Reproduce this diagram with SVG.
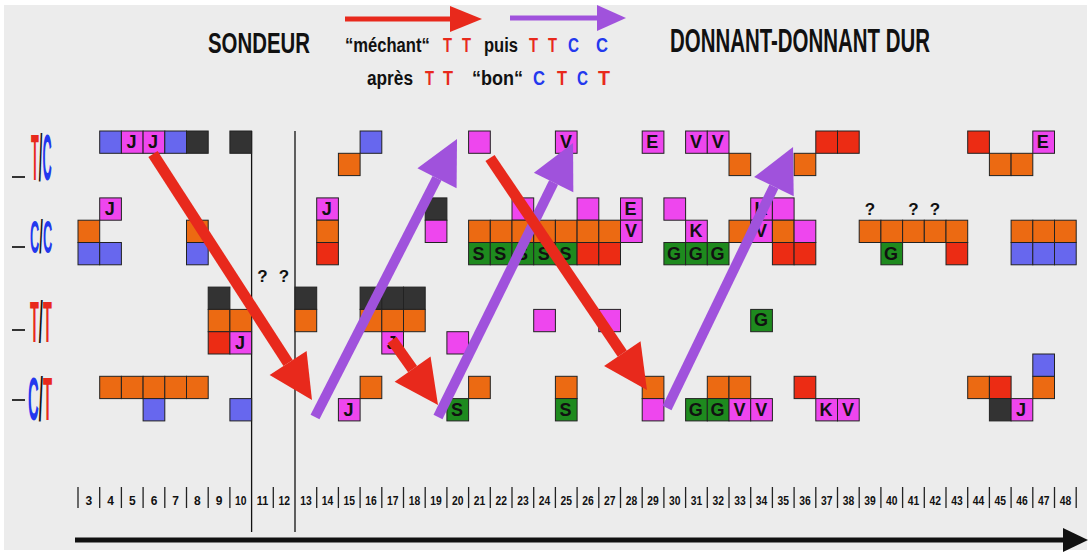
<svg xmlns="http://www.w3.org/2000/svg" width="1091" height="553" viewBox="0 0 1091 553">
<style>
text{font-family:"Liberation Sans",Arial,sans-serif;font-weight:bold}
.c rect{stroke:#222;stroke-width:1}
.b{fill:#6767ee}.m{fill:#ee46ee}.o{fill:#ec6a12}.r{fill:#ec2c14}.k{fill:#333}.g{fill:#1e8a1e}
.lt{font-size:18px;text-anchor:middle;fill:#111}
.q{font-size:17px;text-anchor:middle;fill:#111}
.n{font-size:12px;text-anchor:middle;fill:#111}
.tk{stroke:#222;stroke-width:1.3}
.hd{font-size:20px;fill:#111}
.tr{fill:#e8291c}.cb{fill:#2338ee}
.ar{stroke:#e8291c;stroke-width:11;fill:none}
.ap{stroke:#a052dc;stroke-width:10;fill:none}
</style>
<defs>
<marker id="hr" markerUnits="userSpaceOnUse" markerWidth="46" markerHeight="46" refX="0" refY="22" orient="auto" overflow="visible"><path d="M0,0 L44,22 L0,44 z" fill="#e8291c"/></marker>
<marker id="hp" markerUnits="userSpaceOnUse" markerWidth="46" markerHeight="46" refX="0" refY="22" orient="auto" overflow="visible"><path d="M0,0 L44,22 L0,44 z" fill="#a052dc"/></marker>
<marker id="hsr" markerUnits="userSpaceOnUse" markerWidth="34" markerHeight="28" refX="0" refY="13" orient="auto" overflow="visible"><path d="M0,0 L32,13 L0,26 z" fill="#e8291c"/></marker>
<marker id="hsp" markerUnits="userSpaceOnUse" markerWidth="34" markerHeight="28" refX="0" refY="13" orient="auto" overflow="visible"><path d="M0,0 L29,13 L0,26 z" fill="#a052dc"/></marker>
</defs>
<rect width="1091" height="553" fill="#ffffff"/>
<rect x="4" y="5" width="1083" height="545" fill="#ececec"/>

<g id="header">
<text x="208" y="53" font-size="29" textLength="102" lengthAdjust="spacingAndGlyphs" fill="#111">SONDEUR</text>
<text x="670" y="52" font-size="33" textLength="260" lengthAdjust="spacingAndGlyphs" fill="#111">DONNANT-DONNANT DUR</text>
<text class="hd" transform="translate(345,52) scale(0.83,1)">“méchant“</text>
<text class="hd tr" x="443" y="52" textLength="9" lengthAdjust="spacingAndGlyphs">T</text>
<text class="hd tr" x="462" y="52" textLength="9" lengthAdjust="spacingAndGlyphs">T</text>
<text class="hd" x="484" y="52" textLength="34" lengthAdjust="spacingAndGlyphs">puis</text>
<text class="hd tr" x="529" y="52" textLength="9" lengthAdjust="spacingAndGlyphs">T</text>
<text class="hd tr" x="548" y="52" textLength="9" lengthAdjust="spacingAndGlyphs">T</text>
<text class="hd cb" x="568" y="52" textLength="11" lengthAdjust="spacingAndGlyphs">C</text>
<text class="hd cb" x="596" y="52" textLength="12" lengthAdjust="spacingAndGlyphs">C</text>
<text class="hd" x="367" y="85" textLength="46" lengthAdjust="spacingAndGlyphs">après</text>
<text class="hd tr" x="425" y="85" textLength="9" lengthAdjust="spacingAndGlyphs">T</text>
<text class="hd tr" x="443" y="85" textLength="10" lengthAdjust="spacingAndGlyphs">T</text>
<text class="hd" x="472" y="85" textLength="51" lengthAdjust="spacingAndGlyphs">“bon“</text>
<text class="hd cb" x="533" y="85" textLength="12" lengthAdjust="spacingAndGlyphs">C</text>
<text class="hd tr" x="557" y="85" textLength="10" lengthAdjust="spacingAndGlyphs">T</text>
<text class="hd cb" x="577" y="85" textLength="11" lengthAdjust="spacingAndGlyphs">C</text>
<text class="hd tr" x="598" y="85" textLength="12" lengthAdjust="spacingAndGlyphs">T</text>
</g>

<g id="row-labels">
<line x1="12" y1="177" x2="25" y2="177" stroke="#333" stroke-width="2"/>
<line x1="12" y1="247" x2="25" y2="247" stroke="#333" stroke-width="2"/>
<line x1="12" y1="330" x2="25" y2="330" stroke="#333" stroke-width="2"/>
<line x1="12" y1="400" x2="25" y2="400" stroke="#333" stroke-width="2"/>
<text transform="translate(31,180) scale(0.2,1)" font-size="64"><tspan class="tr">T</tspan><tspan fill="#111">/</tspan><tspan class="cb">C</tspan></text>
<text transform="translate(30,253) scale(0.28,1)" font-size="46"><tspan class="cb">C</tspan><tspan fill="#111">/</tspan><tspan class="cb">C</tspan></text>
<text transform="translate(30,342) scale(0.25,1)" font-size="58"><tspan class="tr">T</tspan><tspan fill="#111">/</tspan><tspan class="tr">T</tspan></text>
<text transform="translate(28,420) scale(0.24,1)" font-size="62"><tspan class="cb">C</tspan><tspan fill="#111">/</tspan><tspan class="tr">T</tspan></text>
</g>

<g id="separators" stroke="#111" stroke-width="1.3">
<line x1="251.6" y1="131" x2="251.6" y2="532"/>
<line x1="295" y1="131" x2="295" y2="532"/>
</g>

<g id="cells-TC" class="c">
<rect class="b" x="99.7" y="131" width="21.7" height="22.3"/>
<rect class="m" x="121.4" y="131" width="21.7" height="22.3"/><text class="lt" x="131.4" y="148">J</text>
<rect class="m" x="143.1" y="131" width="21.7" height="22.3"/><text class="lt" x="153.1" y="148">J</text>
<rect class="b" x="164.8" y="131" width="21.7" height="22.3"/>
<rect class="k" x="186.5" y="131" width="21.7" height="22.3"/>
<rect class="k" x="229.9" y="131" width="21.7" height="22.3"/>
<rect class="b" x="360.1" y="131" width="21.7" height="22.3"/>
<rect class="o" x="338.4" y="153.3" width="21.7" height="22.3"/>
<rect class="m" x="468.6" y="131" width="21.7" height="22.3"/>
<rect class="m" x="555.4" y="131" width="21.7" height="22.3"/><text class="lt" x="566" y="148">V</text>
<rect class="m" x="642.2" y="131" width="21.7" height="22.3"/><text class="lt" x="652.2" y="148">E</text>
<rect class="m" x="685.6" y="131" width="21.7" height="22.3"/><text class="lt" x="696" y="148">V</text>
<rect class="m" x="707.3" y="131" width="21.7" height="22.3"/><text class="lt" x="717.7" y="148">V</text>
<rect class="o" x="729" y="153.3" width="21.7" height="22.3"/>
<rect class="o" x="794.1" y="153.3" width="21.7" height="22.3"/>
<rect class="r" x="815.8" y="131" width="21.7" height="22.3"/>
<rect class="r" x="837.5" y="131" width="21.7" height="22.3"/>
<rect class="r" x="967.7" y="131" width="21.7" height="22.3"/>
<rect class="o" x="989.4" y="153.3" width="21.7" height="22.3"/>
<rect class="o" x="1011.1" y="153.3" width="21.7" height="22.3"/>
<rect class="m" x="1032.8" y="131" width="21.7" height="22.3"/><text class="lt" x="1042.8" y="148">E</text>
</g>

<g id="cells-CC" class="c">
<rect class="m" x="99.7" y="197.9" width="21.7" height="22.3"/><text class="lt" x="109.7" y="215">J</text>
<rect class="o" x="78" y="220.2" width="21.7" height="22.3"/>
<rect class="b" x="78" y="242.5" width="21.7" height="22.3"/>
<rect class="b" x="99.7" y="242.5" width="21.7" height="22.3"/>
<rect class="o" x="186.5" y="220.2" width="21.7" height="22.3"/>
<rect class="b" x="186.5" y="242.5" width="21.7" height="22.3"/>
<rect class="m" x="316.7" y="197.9" width="21.7" height="22.3"/><text class="lt" x="326.7" y="215">J</text>
<rect class="o" x="316.7" y="220.2" width="21.7" height="22.3"/>
<rect class="r" x="316.7" y="242.5" width="21.7" height="22.3"/>
<rect class="k" x="425.2" y="197.9" width="21.7" height="22.3"/>
<rect class="m" x="425.2" y="220.2" width="21.7" height="22.3"/>
<rect class="m" x="512" y="197.9" width="21.7" height="22.3"/>
<rect class="m" x="577.1" y="197.9" width="21.7" height="22.3"/>
<rect class="o" x="468.6" y="220.2" width="21.7" height="22.3"/>
<rect class="o" x="490.3" y="220.2" width="21.7" height="22.3"/>
<rect class="o" x="512" y="220.2" width="21.7" height="22.3"/>
<rect class="o" x="533.7" y="220.2" width="21.7" height="22.3"/>
<rect class="o" x="555.4" y="220.2" width="21.7" height="22.3"/>
<rect class="o" x="577.1" y="220.2" width="21.7" height="22.3"/>
<rect class="o" x="598.8" y="220.2" width="21.7" height="22.3"/>
<rect class="g" x="468.6" y="242.5" width="21.7" height="22.3"/><text class="lt" x="478.6" y="259.5">S</text>
<rect class="g" x="490.3" y="242.5" width="21.7" height="22.3"/><text class="lt" x="500.3" y="259.5">S</text>
<rect class="g" x="512" y="242.5" width="21.7" height="22.3"/><text class="lt" x="522" y="259.5">S</text>
<rect class="g" x="533.7" y="242.5" width="21.7" height="22.3"/><text class="lt" x="543.7" y="259.5">S</text>
<rect class="g" x="555.4" y="242.5" width="21.7" height="22.3"/><text class="lt" x="565.4" y="259.5">S</text>
<rect class="r" x="577.1" y="242.5" width="21.7" height="22.3"/>
<rect class="r" x="598.8" y="242.5" width="21.7" height="22.3"/>
<rect class="m" x="620.5" y="197.9" width="21.7" height="22.3"/><text class="lt" x="630.5" y="215">E</text>
<rect class="m" x="620.5" y="220.2" width="21.7" height="22.3"/><text class="lt" x="631" y="237">V</text>
<rect class="m" x="663.9" y="197.9" width="21.7" height="22.3"/>
<rect class="m" x="685.6" y="220.2" width="21.7" height="22.3"/><text class="lt" x="696" y="237">K</text>
<rect class="g" x="663.9" y="242.5" width="21.7" height="22.3"/><text class="lt" x="674" y="259.5">G</text>
<rect class="g" x="685.6" y="242.5" width="21.7" height="22.3"/><text class="lt" x="695.7" y="259.5">G</text>
<rect class="g" x="707.3" y="242.5" width="21.7" height="22.3"/><text class="lt" x="717.4" y="259.5">G</text>
<rect class="o" x="729" y="220.2" width="21.7" height="22.3"/>
<rect class="m" x="750.7" y="197.9" width="21.7" height="22.3"/><text class="lt" x="761" y="215">K</text>
<rect class="m" x="750.7" y="220.2" width="21.7" height="22.3"/><text class="lt" x="761" y="237">V</text>
<rect class="m" x="772.4" y="197.9" width="21.7" height="22.3"/>
<rect class="o" x="772.4" y="220.2" width="21.7" height="22.3"/>
<rect class="m" x="794.1" y="220.2" width="21.7" height="22.3"/>
<rect class="r" x="772.4" y="242.5" width="21.7" height="22.3"/>
<rect class="r" x="794.1" y="242.5" width="21.7" height="22.3"/>
<rect class="o" x="859.2" y="220.2" width="21.7" height="22.3"/>
<rect class="o" x="880.9" y="220.2" width="21.7" height="22.3"/>
<rect class="o" x="902.6" y="220.2" width="21.7" height="22.3"/>
<rect class="o" x="924.3" y="220.2" width="21.7" height="22.3"/>
<rect class="o" x="946" y="220.2" width="21.7" height="22.3"/>
<rect class="g" x="880.9" y="242.5" width="21.7" height="22.3"/><text class="lt" x="891" y="259.5">G</text>
<rect class="r" x="946" y="242.5" width="21.7" height="22.3"/>
<rect class="o" x="1011.1" y="220.2" width="21.7" height="22.3"/>
<rect class="o" x="1032.8" y="220.2" width="21.7" height="22.3"/>
<rect class="o" x="1054.5" y="220.2" width="21.7" height="22.3"/>
<rect class="b" x="1011.1" y="242.5" width="21.7" height="22.3"/>
<rect class="b" x="1032.8" y="242.5" width="21.7" height="22.3"/>
<rect class="b" x="1054.5" y="242.5" width="21.7" height="22.3"/>
<text class="q" x="870" y="215">?</text>
<text class="q" x="913.5" y="215">?</text>
<text class="q" x="935" y="215">?</text>
<text class="q" x="262.5" y="282">?</text>
<text class="q" x="284" y="282">?</text>
</g>

<g id="cells-TT" class="c">
<rect class="k" x="208.2" y="287.1" width="21.7" height="22.3"/>
<rect class="o" x="208.2" y="309.4" width="21.7" height="22.3"/>
<rect class="o" x="229.9" y="309.4" width="21.7" height="22.3"/>
<rect class="r" x="208.2" y="331.7" width="21.7" height="22.3"/>
<rect class="m" x="229.9" y="331.7" width="21.7" height="22.3"/><text class="lt" x="239.9" y="348.7">J</text>
<rect class="k" x="295" y="287.1" width="21.7" height="22.3"/>
<rect class="o" x="295" y="309.4" width="21.7" height="22.3"/>
<rect class="k" x="360.1" y="287.1" width="21.7" height="22.3"/>
<rect class="k" x="381.8" y="287.1" width="21.7" height="22.3"/>
<rect class="k" x="403.5" y="287.1" width="21.7" height="22.3"/>
<rect class="o" x="360.1" y="309.4" width="21.7" height="22.3"/>
<rect class="o" x="381.8" y="309.4" width="21.7" height="22.3"/>
<rect class="o" x="403.5" y="309.4" width="21.7" height="22.3"/>
<rect class="m" x="381.8" y="331.7" width="21.7" height="22.3"/><text class="lt" x="391.8" y="348.7">J</text>
<rect class="m" x="446.9" y="331.7" width="21.7" height="22.3"/>
<rect class="m" x="533.7" y="309.4" width="21.7" height="22.3"/>
<rect class="m" x="598.8" y="309.4" width="21.7" height="22.3"/>
<rect class="g" x="750.7" y="309.4" width="21.7" height="22.3"/><text class="lt" x="761" y="326.4">G</text>
</g>

<g id="cells-CT" class="c">
<rect class="o" x="99.7" y="376.3" width="21.7" height="22.3"/>
<rect class="o" x="121.4" y="376.3" width="21.7" height="22.3"/>
<rect class="o" x="143.1" y="376.3" width="21.7" height="22.3"/>
<rect class="o" x="164.8" y="376.3" width="21.7" height="22.3"/>
<rect class="o" x="186.5" y="376.3" width="21.7" height="22.3"/>
<rect class="b" x="143.1" y="398.6" width="21.7" height="22.3"/>
<rect class="b" x="229.9" y="398.6" width="21.7" height="22.3"/>
<rect class="o" x="360.1" y="376.3" width="21.7" height="22.3"/>
<rect class="m" x="338.4" y="398.6" width="21.7" height="22.3"/><text class="lt" x="348.4" y="415.6">J</text>
<rect class="o" x="468.6" y="376.3" width="21.7" height="22.3"/>
<rect class="g" x="446.9" y="398.6" width="21.7" height="22.3"/><text class="lt" x="457" y="415.6">S</text>
<rect class="o" x="555.4" y="376.3" width="21.7" height="22.3"/>
<rect class="g" x="555.4" y="398.6" width="21.7" height="22.3"/><text class="lt" x="565.4" y="415.6">S</text>
<rect class="o" x="642.2" y="376.3" width="21.7" height="22.3"/>
<rect class="m" x="642.2" y="398.6" width="21.7" height="22.3"/>
<rect class="o" x="707.3" y="376.3" width="21.7" height="22.3"/>
<rect class="o" x="729" y="376.3" width="21.7" height="22.3"/>
<rect class="g" x="685.6" y="398.6" width="21.7" height="22.3"/><text class="lt" x="695.7" y="415.6">G</text>
<rect class="g" x="707.3" y="398.6" width="21.7" height="22.3"/><text class="lt" x="717.4" y="415.6">G</text>
<rect class="m" x="729" y="398.6" width="21.7" height="22.3"/><text class="lt" x="739.5" y="415.6">V</text>
<rect class="m" x="750.7" y="398.6" width="21.7" height="22.3"/><text class="lt" x="761.2" y="415.6">V</text>
<rect class="r" x="794.1" y="376.3" width="21.7" height="22.3"/>
<rect class="m" x="815.8" y="398.6" width="21.7" height="22.3"/><text class="lt" x="826" y="415.6">K</text>
<rect class="m" x="837.5" y="398.6" width="21.7" height="22.3"/><text class="lt" x="848" y="415.6">V</text>
<rect class="o" x="967.7" y="376.3" width="21.7" height="22.3"/>
<rect class="r" x="989.4" y="376.3" width="21.7" height="22.3"/>
<rect class="o" x="1032.8" y="376.3" width="21.7" height="22.3"/>
<rect class="b" x="1032.8" y="354" width="21.7" height="22.3"/>
<rect class="k" x="989.4" y="398.6" width="21.7" height="22.3"/>
<rect class="m" x="1011.1" y="398.6" width="21.7" height="22.3"/><text class="lt" x="1021.1" y="415.6">J</text>
</g>

<g id="connectors">
<line x1="345" y1="19" x2="450" y2="19" stroke="#e8291c" stroke-width="5" marker-end="url(#hsr)"/>
<line x1="510" y1="18" x2="597" y2="18" stroke="#a052dc" stroke-width="5" marker-end="url(#hsp)"/>
<line class="ar" x1="153" y1="154" x2="288.1" y2="363" marker-end="url(#hr)"/>
<line class="ap" x1="315" y1="417" x2="437" y2="178.2" marker-end="url(#hp)"/>
<line class="ar" x1="392" y1="340" x2="412.6" y2="369.1" marker-end="url(#hr)"/>
<line class="ap" x1="438" y1="417" x2="553.6" y2="182.5" marker-end="url(#hp)"/>
<line class="ar" x1="490" y1="158" x2="622.3" y2="353.6" marker-end="url(#hr)"/>
<line class="ap" x1="667" y1="408" x2="773.9" y2="186.6" marker-end="url(#hp)"/>
</g>

<g id="axis">
<g class="tk">
<line x1="78" y1="487" x2="78" y2="508"/><line x1="99.7" y1="487" x2="99.7" y2="508"/><line x1="121.4" y1="487" x2="121.4" y2="508"/><line x1="143.1" y1="487" x2="143.1" y2="508"/><line x1="164.8" y1="487" x2="164.8" y2="508"/><line x1="186.5" y1="487" x2="186.5" y2="508"/><line x1="208.2" y1="487" x2="208.2" y2="508"/><line x1="229.9" y1="487" x2="229.9" y2="508"/><line x1="273.3" y1="487" x2="273.3" y2="508"/><line x1="316.7" y1="487" x2="316.7" y2="508"/><line x1="338.4" y1="487" x2="338.4" y2="508"/><line x1="360.1" y1="487" x2="360.1" y2="508"/><line x1="381.8" y1="487" x2="381.8" y2="508"/><line x1="403.5" y1="487" x2="403.5" y2="508"/><line x1="425.2" y1="487" x2="425.2" y2="508"/><line x1="446.9" y1="487" x2="446.9" y2="508"/><line x1="468.6" y1="487" x2="468.6" y2="508"/><line x1="490.3" y1="487" x2="490.3" y2="508"/><line x1="512" y1="487" x2="512" y2="508"/><line x1="533.7" y1="487" x2="533.7" y2="508"/><line x1="555.4" y1="487" x2="555.4" y2="508"/><line x1="577.1" y1="487" x2="577.1" y2="508"/><line x1="598.8" y1="487" x2="598.8" y2="508"/><line x1="620.5" y1="487" x2="620.5" y2="508"/><line x1="642.2" y1="487" x2="642.2" y2="508"/><line x1="663.9" y1="487" x2="663.9" y2="508"/><line x1="685.6" y1="487" x2="685.6" y2="508"/><line x1="707.3" y1="487" x2="707.3" y2="508"/><line x1="729" y1="487" x2="729" y2="508"/><line x1="750.7" y1="487" x2="750.7" y2="508"/><line x1="772.4" y1="487" x2="772.4" y2="508"/><line x1="794.1" y1="487" x2="794.1" y2="508"/><line x1="815.8" y1="487" x2="815.8" y2="508"/><line x1="837.5" y1="487" x2="837.5" y2="508"/><line x1="859.2" y1="487" x2="859.2" y2="508"/><line x1="880.9" y1="487" x2="880.9" y2="508"/><line x1="902.6" y1="487" x2="902.6" y2="508"/><line x1="924.3" y1="487" x2="924.3" y2="508"/><line x1="946" y1="487" x2="946" y2="508"/><line x1="967.7" y1="487" x2="967.7" y2="508"/><line x1="989.4" y1="487" x2="989.4" y2="508"/><line x1="1011.1" y1="487" x2="1011.1" y2="508"/><line x1="1032.8" y1="487" x2="1032.8" y2="508"/><line x1="1054.5" y1="487" x2="1054.5" y2="508"/><line x1="1076.2" y1="487" x2="1076.2" y2="508"/>
</g>
<text class="n" x="88.9" y="505">3</text><text class="n" x="110.6" y="505">4</text><text class="n" x="132.3" y="505">5</text><text class="n" x="154" y="505">6</text><text class="n" x="175.7" y="505">7</text><text class="n" x="197.4" y="505">8</text><text class="n" x="219.1" y="505">9</text>
<text class="n" x="240.8" y="505" textLength="11.5" lengthAdjust="spacingAndGlyphs">10</text><text class="n" x="262.5" y="505" textLength="11.5" lengthAdjust="spacingAndGlyphs">11</text><text class="n" x="284.2" y="505" textLength="11.5" lengthAdjust="spacingAndGlyphs">12</text><text class="n" x="305.9" y="505" textLength="11.5" lengthAdjust="spacingAndGlyphs">13</text><text class="n" x="327.6" y="505" textLength="11.5" lengthAdjust="spacingAndGlyphs">14</text><text class="n" x="349.3" y="505" textLength="11.5" lengthAdjust="spacingAndGlyphs">15</text><text class="n" x="371" y="505" textLength="11.5" lengthAdjust="spacingAndGlyphs">16</text><text class="n" x="392.7" y="505" textLength="11.5" lengthAdjust="spacingAndGlyphs">17</text><text class="n" x="414.4" y="505" textLength="11.5" lengthAdjust="spacingAndGlyphs">18</text><text class="n" x="436.1" y="505" textLength="11.5" lengthAdjust="spacingAndGlyphs">19</text>
<text class="n" x="457.8" y="505" textLength="11.5" lengthAdjust="spacingAndGlyphs">20</text><text class="n" x="479.5" y="505" textLength="11.5" lengthAdjust="spacingAndGlyphs">21</text><text class="n" x="501.2" y="505" textLength="11.5" lengthAdjust="spacingAndGlyphs">22</text><text class="n" x="522.9" y="505" textLength="11.5" lengthAdjust="spacingAndGlyphs">23</text><text class="n" x="544.6" y="505" textLength="11.5" lengthAdjust="spacingAndGlyphs">24</text><text class="n" x="566.3" y="505" textLength="11.5" lengthAdjust="spacingAndGlyphs">25</text><text class="n" x="588" y="505" textLength="11.5" lengthAdjust="spacingAndGlyphs">26</text><text class="n" x="609.7" y="505" textLength="11.5" lengthAdjust="spacingAndGlyphs">27</text><text class="n" x="631.4" y="505" textLength="11.5" lengthAdjust="spacingAndGlyphs">28</text><text class="n" x="653.1" y="505" textLength="11.5" lengthAdjust="spacingAndGlyphs">29</text>
<text class="n" x="674.8" y="505" textLength="11.5" lengthAdjust="spacingAndGlyphs">30</text><text class="n" x="696.5" y="505" textLength="11.5" lengthAdjust="spacingAndGlyphs">31</text><text class="n" x="718.2" y="505" textLength="11.5" lengthAdjust="spacingAndGlyphs">32</text><text class="n" x="739.9" y="505" textLength="11.5" lengthAdjust="spacingAndGlyphs">33</text><text class="n" x="761.6" y="505" textLength="11.5" lengthAdjust="spacingAndGlyphs">34</text><text class="n" x="783.3" y="505" textLength="11.5" lengthAdjust="spacingAndGlyphs">35</text><text class="n" x="805" y="505" textLength="11.5" lengthAdjust="spacingAndGlyphs">36</text><text class="n" x="826.7" y="505" textLength="11.5" lengthAdjust="spacingAndGlyphs">37</text><text class="n" x="848.4" y="505" textLength="11.5" lengthAdjust="spacingAndGlyphs">38</text><text class="n" x="870.1" y="505" textLength="11.5" lengthAdjust="spacingAndGlyphs">39</text>
<text class="n" x="891.8" y="505" textLength="11.5" lengthAdjust="spacingAndGlyphs">40</text><text class="n" x="913.5" y="505" textLength="11.5" lengthAdjust="spacingAndGlyphs">41</text><text class="n" x="935.2" y="505" textLength="11.5" lengthAdjust="spacingAndGlyphs">42</text><text class="n" x="956.9" y="505" textLength="11.5" lengthAdjust="spacingAndGlyphs">43</text><text class="n" x="978.6" y="505" textLength="11.5" lengthAdjust="spacingAndGlyphs">44</text><text class="n" x="1000.3" y="505" textLength="11.5" lengthAdjust="spacingAndGlyphs">45</text><text class="n" x="1022" y="505" textLength="11.5" lengthAdjust="spacingAndGlyphs">46</text><text class="n" x="1043.7" y="505" textLength="11.5" lengthAdjust="spacingAndGlyphs">47</text><text class="n" x="1065.4" y="505" textLength="11.5" lengthAdjust="spacingAndGlyphs">48</text>
<line x1="75" y1="540" x2="1064" y2="540" stroke="#111" stroke-width="5"/>
<path d="M1063,528 L1088,540 L1063,552 z" fill="#111"/>
</g>
</svg>
